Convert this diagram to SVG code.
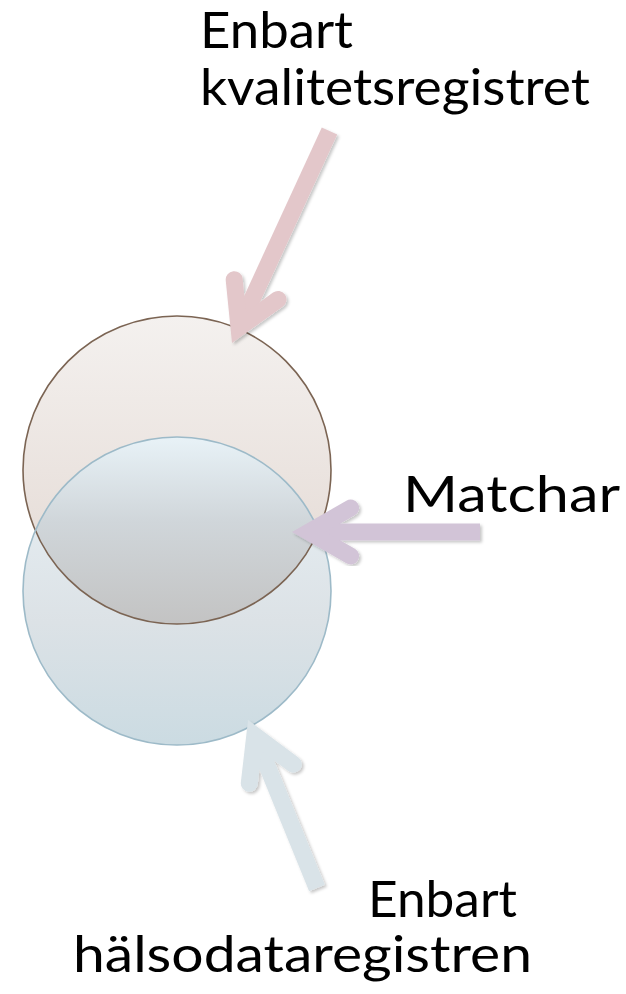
<svg xmlns="http://www.w3.org/2000/svg" width="626" height="994" viewBox="0 0 626 994">
  <style>
    .lbl { font-family: "Lato", "Liberation Sans", sans-serif; font-size: 50px; font-weight: 400; fill: #000000; }
    .arrow { fill: none; stroke-width: 17; }
    .shaft { stroke-linecap: butt; }
    .head { stroke-linecap: round; stroke-linejoin: miter; stroke-miterlimit: 6; }
  </style>
  <defs>
    <linearGradient id="gA" gradientUnits="userSpaceOnUse" x1="0" y1="316" x2="0" y2="624">
      <stop offset="0" stop-color="#f4f1ef"/>
      <stop offset="1" stop-color="#e2d7d1"/>
    </linearGradient>
    <linearGradient id="gB" gradientUnits="userSpaceOnUse" x1="0" y1="437" x2="0" y2="745">
      <stop offset="0" stop-color="#e9f2f7"/>
      <stop offset="0.6" stop-color="#dce2e6"/>
      <stop offset="1" stop-color="#cbdbe2"/>
    </linearGradient>
    <linearGradient id="gL" gradientUnits="userSpaceOnUse" x1="0" y1="437" x2="0" y2="624">
      <stop offset="0" stop-color="#e8f2f7"/>
      <stop offset="0.45" stop-color="#d0d6da"/>
      <stop offset="1" stop-color="#c3c3c3"/>
    </linearGradient>
    <clipPath id="clipA">
      <circle cx="177" cy="470" r="154"/>
    </clipPath>
    <filter id="sh" x="-20%" y="-20%" width="140%" height="140%">
      <feDropShadow dx="2" dy="2" stdDeviation="1.8" flood-color="#000000" flood-opacity="0.22"/>
    </filter>
  </defs>

  <g id="circles">
    <g id="node-kvalitetsregistret">
      <circle cx="177" cy="470" r="154" fill="url(#gA)"/>
    </g>
    <g id="node-halsodataregistren">
      <circle cx="177" cy="591" r="154" fill="url(#gB)"/>
    </g>
    <g id="node-matchar-lens">
      <circle cx="177" cy="591" r="154" fill="url(#gL)" clip-path="url(#clipA)"/>
    </g>
    <circle cx="177" cy="470" r="154" fill="none" stroke="#7b6453" stroke-width="1.6"/>
    <circle cx="177" cy="591" r="154" fill="none" stroke="#9dbac8" stroke-width="1.6"/>
  </g>

  <g id="connectors">
    <g id="arrow-top" filter="url(#sh)" stroke="#e3c7ca">
      <line class="arrow shaft" x1="329.5" y1="131" x2="239" y2="327.5"/>
      <polyline class="arrow head" points="234.2,279.7 239,327.5 278,299.5"/>
    </g>
    <g id="arrow-matchar" filter="url(#sh)" stroke="#d2c4d7">
      <line class="arrow shaft" x1="480" y1="532" x2="309" y2="532"/>
      <polyline class="arrow head" points="350.6,508 309,532 350.6,556"/>
    </g>
    <g id="arrow-bottom" filter="url(#sh)" stroke="#d9e3e8">
      <line class="arrow shaft" x1="317" y1="888" x2="254.8" y2="735.6"/>
      <polyline class="arrow head" points="249.3,783.3 254.8,735.6 293.3,764.2"/>
    </g>
  </g>

  <g id="labels">
    <g id="label-top">
      <text class="lbl" x="200" y="48" textLength="153" lengthAdjust="spacingAndGlyphs">Enbart</text>
      <text class="lbl" x="200" y="105" textLength="390" lengthAdjust="spacingAndGlyphs">kvalitetsregistret</text>
    </g>
    <g id="label-matchar">
      <text class="lbl" x="403" y="512" textLength="217" lengthAdjust="spacingAndGlyphs">Matchar</text>
    </g>
    <g id="label-bottom">
      <text class="lbl" x="368" y="917" textLength="149" lengthAdjust="spacingAndGlyphs">Enbart</text>
      <text class="lbl" x="73" y="972" textLength="459" lengthAdjust="spacingAndGlyphs">hälsodataregistren</text>
    </g>
  </g>
</svg>
